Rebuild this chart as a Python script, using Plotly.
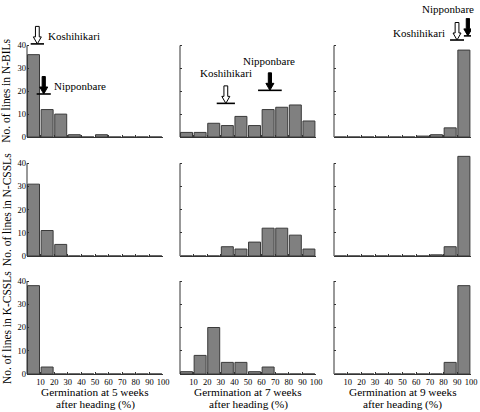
import plotly.graph_objects as go

# ---------------- data ----------------
bin_centers = [5, 15, 25, 35, 45, 55, 65, 75, 85, 95]
x_tick_vals = [10, 20, 30, 40, 50, 60, 70, 80, 90, 100]
x_tick_text = ["10", "20", "30", "40", "50", "60", "70", "80", "90", "100"]
y_tick_vals = [0, 10, 20, 30, 40]
y_axis_max = 40

nbil_5w = [36, 12, 10, 1, 0, 1, 0, 0, 0, 0]
nbil_7w = [2, 2, 6, 5, 9, 5, 12, 13, 14, 7]
nbil_9w = [0, 0, 0, 0, 0, 0, 0.4, 1, 4, 38]
ncssl_5w = [31, 11, 5, 0, 0, 0, 0, 0, 0, 0]
ncssl_7w = [0, 0, 0, 4, 3, 6, 12, 12, 9, 3]
ncssl_9w = [0, 0, 0, 0, 0, 0, 0, 0.5, 4, 43]
kcssl_5w = [38, 3, 0, 0, 0, 0, 0, 0, 0, 0]
kcssl_7w = [1, 8, 20, 5, 5, 1, 3, 0, 0, 0]
kcssl_9w = [0, 0, 0, 0, 0, 0, 0, 0, 5, 38]

row_labels = ["No. of lines in N-BILs", "No. of lines in N-CSSLs", "No. of lines in K-CSSLs"]
col_line1 = ["Germination at 5 weeks", "Germination at 7 weeks", "Germination at 9 weeks"]
col_line2 = ["after heading (%)", "after heading (%)", "after heading (%)"]

# parental values (top row): mean, sd, level of the bar
koshi_mean = [7.6, 33.7, 89.8]
koshi_sd = [4.9, 6.7, 5.1]
koshi_level = [40.7, 14.7, 42.4]
nippon_mean = [12.3, 66.1, 97.7]
nippon_sd = [5.2, 8.7, 2.9]
nippon_level = [18.8, 20.4, 44.2]

panels = [nbil_5w, nbil_7w, nbil_9w,
          ncssl_5w, ncssl_7w, ncssl_9w,
          kcssl_5w, kcssl_7w, kcssl_9w]

# ---------------- layout geometry (pixels) ----------------
W, H = 480, 412
col_x0 = [27, 180, 334]
col_x100 = [163, 316, 471]
row_y0 = [137, 256, 374]
row_y40 = [45.5, 163.3, 281]
row_top_val = [52, 46, 46]

FONT = "Liberation Serif"
BAR_FILL = "#808080"
BAR_LINE = "#3a3a3a"
AX = "#333333"

fig = go.Figure()
layout = dict(template="none", width=W, height=H, margin=dict(l=0, r=0, t=0, b=0, pad=0),
              paper_bgcolor="white", plot_bgcolor="white",
              showlegend=False, font=dict(family=FONT, color="black"))

annotations = []
shapes = []

for i, vals in enumerate(panels):
    r, c = divmod(i, 3)
    n = i + 1
    xs = "" if n == 1 else str(n)
    ppu = (row_y0[r] - row_y40[r]) / 40.0
    xd = [col_x0[c] / W, col_x100[c] / W]
    yd = [1 - row_y0[r] / H, 1 - (row_y0[r] - row_top_val[r] * ppu) / H]

    layout["xaxis" + xs] = dict(domain=xd, range=[0, 100], anchor="y" + xs,
                                showline=True, linecolor=AX, linewidth=1,
                                ticks="inside", ticklen=2, tickwidth=1, tickcolor=AX,
                                tickmode="array", tickvals=x_tick_vals, ticktext=x_tick_text,
                                showticklabels=(r == 2), showgrid=False, zeroline=False,
                                tickfont=dict(size=8.5, family=FONT, color="black"),
                                automargin=False, fixedrange=True)
    layout["yaxis" + xs] = dict(domain=yd, range=[0, row_top_val[r]], anchor="x" + xs,
                                showline=False,
                                ticks="inside", ticklen=2, tickwidth=1, tickcolor=AX,
                                tickmode="array", tickvals=y_tick_vals,
                                showticklabels=(c == 0), showgrid=False, zeroline=False,
                                tickfont=dict(size=8.5, family=FONT, color="black"),
                                automargin=False, fixedrange=True)

    # y axis line from 0 to 40 (paper coordinates derived from the axis scale)
    y_top_px = row_y0[r] - y_axis_max * ppu
    shapes.append(dict(type="line", xref="paper", yref="paper",
                       x0=col_x0[c] / W, x1=col_x0[c] / W,
                       y0=1 - row_y0[r] / H, y1=1 - y_top_px / H,
                       line=dict(color=AX, width=1), layer="above"))

    fig.add_trace(go.Bar(x=bin_centers, y=vals, xaxis="x" + xs, yaxis="y" + xs,
                         width=8.8, offset=-4.6, hoverinfo="skip",
                         marker=dict(color=BAR_FILL, line=dict(color=BAR_LINE, width=1))))

    if r == 0:
        sx = (col_x100[c] - col_x0[c]) / 100.0
        L, HL = 17.5 / ppu, 7.0 / ppu

        def arrow(m, lev, sw_px, hw_px, fill):
            sw, hw = sw_px / sx, hw_px / sx
            ax = [m - sw, m + sw, m + sw, m + hw, m, m - hw, m - sw, m - sw]
            ay = [lev + L, lev + L, lev + HL, lev + HL, lev, lev + HL, lev + HL, lev + L]
            fig.add_trace(go.Scatter(x=ax, y=ay, mode="lines", fill="toself",
                                     fillcolor=fill, line=dict(color="black", width=1),
                                     xaxis="x" + xs, yaxis="y" + xs, hoverinfo="skip"))

        for m, sd, lev, fill, sw in [(koshi_mean[c], koshi_sd[c], koshi_level[c], "white", 1.9),
                                     (nippon_mean[c], nippon_sd[c], nippon_level[c], "black", 1.6)]:
            fig.add_trace(go.Scatter(x=[m - sd, m + sd], y=[lev, lev], mode="lines",
                                     line=dict(color="black", width=1.6),
                                     xaxis="x" + xs, yaxis="y" + xs, hoverinfo="skip"))
            arrow(m, lev, sw, 4.0, fill)

# row titles
for r in range(3):
    yc = (row_y0[r] + row_y40[r]) / 2
    annotations.append(dict(text=row_labels[r], x=6.5 / W, y=1 - yc / H, xref="paper", yref="paper",
                            textangle=-90, showarrow=False, xanchor="center", yanchor="middle",
                            font=dict(size=11.5, family=FONT, color="black")))
# column titles
for c in range(3):
    xc = (col_x0[c] + col_x100[c]) / 2
    annotations.append(dict(text=col_line1[c], x=xc / W, y=1 - 392 / H, xref="paper", yref="paper",
                            showarrow=False, xanchor="center", yanchor="middle",
                            font=dict(size=11.3, family=FONT, color="black")))
    annotations.append(dict(text=col_line2[c], x=xc / W, y=1 - 404.5 / H, xref="paper", yref="paper",
                            showarrow=False, xanchor="center", yanchor="middle",
                            font=dict(size=11.3, family=FONT, color="black")))

# parent labels
parent_labels = [
    ("Koshihikari", 45.7, 35.7, "left"),
    ("Nipponbare", 52, 85.7, "left"),
    ("Koshihikari", 226, 73.3, "center"),
    ("Nipponbare", 269, 60.7, "center"),
    ("Koshihikari", 447, 32.7, "right"),
    ("Nipponbare", 447.5, 9, "center"),
]
for t, px, py, anc in parent_labels:
    annotations.append(dict(text=t, x=px / W, y=1 - py / H, xref="paper", yref="paper",
                            showarrow=False, xanchor=anc, yanchor="middle",
                            font=dict(size=11, family=FONT, color="black")))

layout["annotations"] = annotations
layout["shapes"] = shapes
fig.update_layout(**layout)
fig.write_html("out.html", config={"displayModeBar": False, "staticPlot": True},
               post_script="document.body.style.margin='0';document.body.style.padding='0';")
